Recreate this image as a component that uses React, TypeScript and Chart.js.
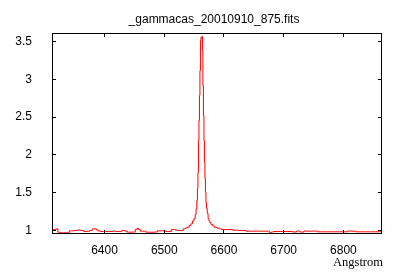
import { useEffect, useRef } from "react";
import { Chart, registerables } from "chart.js";

Chart.register(...registerables);

const TITLE = "_gammacas_20010910_875.fits";
const X_LABEL = "Angstrom";

const X_TICKS = [6400, 6500, 6600, 6700, 6800];
const Y_TICKS = [1, 1.5, 2, 2.5, 3, 3.5];
const Y_TICK_LABELS = ["1", "1.5", "2", "2.5", "3", "3.5"];

const WAVELENGTH = [
  6313.6, 6317.5, 6320.3, 6323.3, 6325.9, 6329.2, 6334.2, 6339.2, 6342.6, 6347.6,
  6352.6, 6357.7, 6362.7, 6367.7, 6372.7, 6377.7, 6381.1, 6384.4, 6387.8, 6391.1,
  6396.2, 6401.2, 6406.2, 6411.2, 6416.2, 6421.3, 6426.3, 6431.3, 6436.3, 6439.7,
  6444.7, 6449.7, 6453.1, 6455.6, 6458.1, 6461.4, 6466.4, 6471.5, 6476.5, 6481.5,
  6486.5, 6489.9, 6494.9, 6499.9, 6505.0, 6510.0, 6513.3, 6516.7, 6520.0, 6523.3,
  6526.7, 6530.0, 6533.4, 6536.7, 6540.1, 6543.4, 6545.9, 6548.5, 6551.0, 6552.6,
  6554.0, 6555.1, 6556.0, 6556.8, 6557.7, 6558.5, 6559.3, 6560.2, 6561.0, 6561.8,
  6562.7, 6563.5, 6564.3, 6565.2, 6566.0, 6566.9, 6567.7, 6568.5, 6569.4, 6570.2,
  6571.4, 6572.7, 6574.1, 6575.6, 6576.9, 6579.8, 6582.8, 6586.1, 6590.3, 6593.6,
  6598.7, 6605.4, 6612.1, 6617.1, 6622.1, 6627.1, 6633.8, 6640.5, 6647.2, 6653.9,
  6660.6, 6667.3, 6674.0, 6678.2, 6680.7, 6685.7, 6694.1, 6702.4, 6710.8, 6719.2,
  6724.2, 6730.9, 6737.6, 6744.3, 6752.6, 6761.0, 6769.4, 6777.7, 6786.1, 6794.5,
  6802.8, 6811.2, 6817.9, 6824.6, 6833.0, 6841.3, 6849.7, 6858.1, 6863.0,
];

const FLUX = [
  1.007, 1.013, 1.022, 0.978, 0.974, 0.970, 0.970, 0.970, 0.996, 0.996,
  1.000, 1.007, 1.000, 0.987, 0.991, 1.000, 1.022, 1.022, 1.007, 0.993,
  0.987, 0.987, 0.987, 0.987, 0.993, 0.987, 0.987, 1.000, 0.993, 0.978,
  0.978, 0.980, 1.013, 1.030, 1.013, 0.991, 0.991, 0.978, 0.978, 0.978,
  0.980, 0.996, 0.996, 0.996, 0.987, 0.987, 1.013, 1.013, 1.007, 1.000,
  1.000, 1.000, 1.022, 1.033, 1.044, 1.066, 1.089, 1.126, 1.159, 1.212,
  1.291, 1.397, 1.556, 1.767, 2.190, 2.455, 2.786, 3.116, 3.513, 3.553,
  3.540, 3.566, 3.381, 2.918, 2.521, 2.190, 1.899, 1.688, 1.503, 1.370,
  1.291, 1.225, 1.159, 1.126, 1.106, 1.079, 1.060, 1.040, 1.033, 1.022,
  1.013, 1.013, 1.013, 1.004, 1.004, 1.000, 1.000, 0.991, 0.991, 0.993,
  0.991, 0.991, 0.991, 0.970, 0.980, 0.987, 0.987, 0.987, 0.987, 0.980,
  0.993, 0.980, 0.993, 0.991, 0.993, 0.983, 0.983, 0.983, 0.983, 0.983,
  0.983, 0.993, 0.991, 0.983, 0.983, 0.983, 0.983, 0.983, 0.985,
];

const X_MIN = 6312;
const X_MAX = 6863;
const Y_MIN = 0.954;
const Y_MAX = 3.612;

export default function App() {
  const ref = useRef<HTMLCanvasElement>(null);

  useEffect(() => {
    document.body.style.margin = "0";
    const canvas = ref.current;
    if (!canvas) return;

    const framePlugin = {
      id: "gnuplotFrame",
      afterDraw(chart: any) {
        const { ctx, chartArea: a, scales } = chart;
        const L = Math.floor(a.left) + 0.5;
        const R = Math.floor(a.right) + 0.5;
        const T = Math.floor(a.top) + 0.5;
        const B = Math.floor(a.bottom) - 0.5;
        const tl = 3.5;
        ctx.save();
        ctx.strokeStyle = "#000";
        ctx.lineWidth = 1;
        ctx.strokeRect(L, T, R - L, B - T);
        ctx.beginPath();
        for (const v of X_TICKS) {
          const x = Math.floor(scales.x.getPixelForValue(v)) + 0.5;
          ctx.moveTo(x, B);
          ctx.lineTo(x, B - tl);
          ctx.moveTo(x, T);
          ctx.lineTo(x, T + tl);
        }
        for (const v of Y_TICKS) {
          const y = Math.floor(scales.y.getPixelForValue(v)) + 0.5;
          ctx.moveTo(L, y);
          ctx.lineTo(L + tl, y);
          ctx.moveTo(R, y);
          ctx.lineTo(R - tl, y);
        }
        ctx.stroke();

        ctx.fillStyle = "#000";
        ctx.font = '12px "Liberation Sans"';
        ctx.textAlign = "center";
        ctx.textBaseline = "alphabetic";
        ctx.fillText(TITLE, 214, 23);

        ctx.font = '12.5px "Liberation Serif"';
        ctx.textAlign = "right";
        ctx.fillText(X_LABEL, 383, 266);
        ctx.restore();
      },
    };

    const points = WAVELENGTH.map((w, i) => ({ x: w, y: FLUX[i] }));

    const chart = new Chart(canvas, {
      type: "line",
      data: {
        datasets: [
          {
            data: points,
            borderColor: "#ff0000",
            borderWidth: 1,
            pointRadius: 0,
            fill: false,
            tension: 0,
            stepped: "middle",
          },
        ],
      },
      options: {
        animation: false,
        responsive: false,
        devicePixelRatio: 1,
        layout: { padding: { left: 0, right: 19, top: 33, bottom: 0 } },
        plugins: {
          legend: { display: false },
          title: { display: false },
          tooltip: { enabled: false },
        },
        scales: {
          x: {
            type: "linear",
            min: X_MIN,
            max: X_MAX,
            grid: { display: false },
            border: { display: false },
            ticks: {
              color: "#000",
              font: { family: "Liberation Sans", size: 12 },
              padding: 1,
              maxRotation: 0,
              autoSkip: false,
              callback: (v: any) => String(v),
            },
            afterBuildTicks: (s: any) => {
              s.ticks = X_TICKS.map((v) => ({ value: v }));
            },
            afterFit: (s: any) => {
              s.height = 46;
            },
          },
          y: {
            type: "linear",
            min: Y_MIN,
            max: Y_MAX,
            grid: { display: false },
            border: { display: false },
            ticks: {
              color: "#000",
              font: { family: "Liberation Sans", size: 12 },
              padding: 12,
              autoSkip: false,
              callback: (v: any) => {
                const i = Y_TICKS.indexOf(Number(v));
                return i >= 0 ? Y_TICK_LABELS[i] : "";
              },
            },
            afterBuildTicks: (s: any) => {
              s.ticks = Y_TICKS.map((v) => ({ value: v }));
            },
            afterFit: (s: any) => {
              s.width = 52;
            },
          },
        },
      },
      plugins: [framePlugin],
    });

    return () => chart.destroy();
  }, []);

  return (
    <canvas
      ref={ref}
      width={400}
      height={280}
      style={{ display: "block", width: 400, height: 280 }}
    />
  );
}
